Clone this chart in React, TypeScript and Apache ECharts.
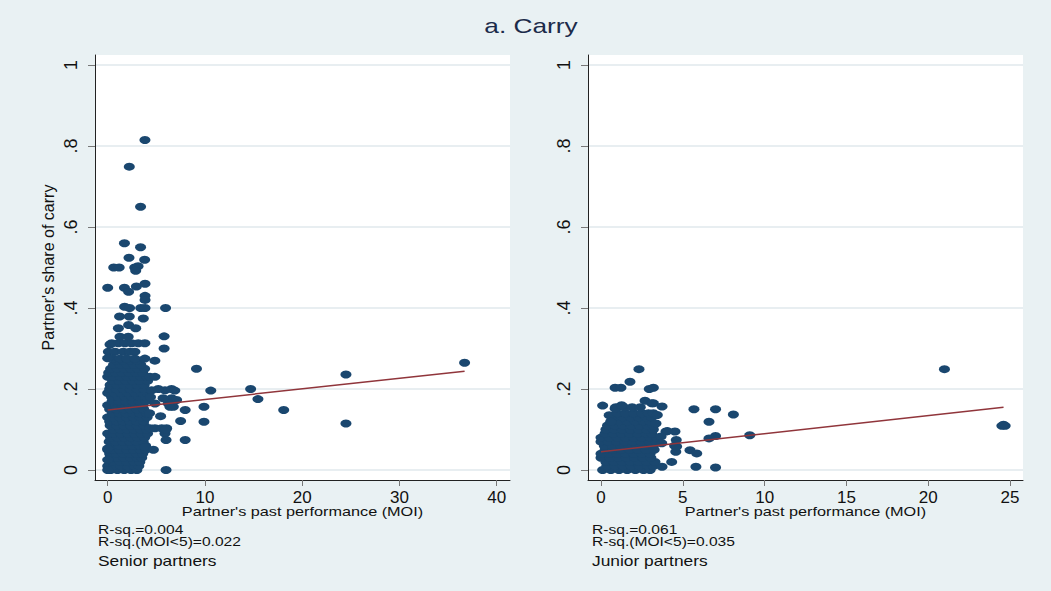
import React, { useEffect, useRef } from "react";
import * as echarts from "echarts";

const TITLE = "a. Carry";
const X_TITLE = "Partner's past performance (MOI)";
const Y_TITLE = "Partner's share of carry";
const yTicks = [0, 0.2, 0.4, 0.6, 0.8, 1];
const yTickLabels = ["0", ".2", ".4", ".6", ".8", "1"];
const seniorXTicks = [0, 10, 20, 30, 40];
const juniorXTicks = [0, 5, 10, 15, 20, 25];
const seniorNotes = ["R-sq.=0.004", "R-sq.(MOI<5)=0.022", "Senior partners"];
const juniorNotes = ["R-sq.=0.061", "R-sq.(MOI<5)=0.035", "Junior partners"];

// fitted lines (start, end)
const seniorFit = [[0, 0.148], [36.7, 0.244]];
const juniorFit = [[0, 0.045], [24.6, 0.155]];

// Senior partners: scattered points
const seniorOutliers = [
  [3.83, 0.815], [2.22, 0.749], [3.38, 0.65], [1.72, 0.56], [3.38, 0.55], [2.19, 0.524], [3.8, 0.519],
  [0.62, 0.5], [1.18, 0.5], [2.78, 0.5], [3.12, 0.503], [2.88, 0.492], [0, 0.45], [1.72, 0.45],
  [2.15, 0.44], [2.95, 0.453], [3.84, 0.46], [3.84, 0.43], [3.84, 0.42], [1.74, 0.403], [2.25, 0.4],
  [3.4, 0.4], [3.84, 0.4], [5.95, 0.4], [1.22, 0.379], [2.22, 0.379], [3.66, 0.374], [1.1, 0.35],
  [2.15, 0.358], [2.88, 0.35], [5.8, 0.33], [5.8, 0.3], [9.13, 0.25], [4.85, 0.27], [36.7, 0.265],
  [24.5, 0.236], [14.7, 0.2], [10.6, 0.196], [15.45, 0.175], [18.1, 0.148], [9.9, 0.156], [9.9, 0.119],
  [24.5, 0.115], [7.97, 0.148], [7.5, 0.121], [7.97, 0.074], [6.56, 0.2], [6.9, 0.196], [5.7, 0.177],
  [6.4, 0.156], [6.0, 0], [6.0, 0.074], [6.0, 0.1], [5.44, 0.133], [4.7, 0.05], [5.2, 0.2], [0, 0.053],
  [0, 0.025], [0, 0], [0, 0.276], [0.24, 0.31],
];
const seniorFringe = [
  [0.41, 0.313], [1.09, 0.313], [1.77, 0.313], [2.46, 0.313], [3.14, 0.313], [3.82, 0.313],
  [0.07, 0.292], [0.75, 0.292], [1.6, 0.292], [2.29, 0.292], [2.8, 0.292], [0.58, 0.275],
  [1.26, 0.275], [1.94, 0.275], [2.8, 0.275], [3.82, 0.275], [1.26, 0.329], [2.11, 0.329],
  [4.35, 0.23], [4.86, 0.23], [4.52, 0.197], [5.89, 0.197], [6.58, 0.177], [7.09, 0.173],
  [4.86, 0.164], [6.23, 0.164], [6.75, 0.156], [4.35, 0.103], [4.86, 0.103], [5.55, 0.103],
  [6.06, 0.103], [5.89, 0.09], [3.84, 0.057], [4.3, 0.14], [4.4, 0.18],
];
const seniorCore = [
  [0.3, 0], [1.0, 0], [1.7, 0], [2.4, 0], [3.0, 0],
  [0.0, 0.01], [0.65, 0.01], [1.35, 0.01], [2.05, 0.01], [2.75, 0.01], [3.2, 0.01],
  [0.6, 0.02], [1.3, 0.02], [2.0, 0.02], [2.7, 0.02], [3.3, 0.02],
  [0.25, 0.03], [0.95, 0.03], [1.65, 0.03], [2.35, 0.03], [3.05, 0.03], [3.5, 0.03],
  [0.2, 0.04], [0.9, 0.04], [1.6, 0.04], [2.3, 0.04], [3.0, 0.04], [3.6, 0.04],
  [0.0, 0.05], [0.55, 0.05], [1.25, 0.05], [1.95, 0.05], [2.65, 0.05], [3.35, 0.05], [3.9, 0.05],
  [0.5, 0.06], [1.2, 0.06], [1.9, 0.06], [2.6, 0.06], [3.3, 0.06], [3.9, 0.06],
  [0.15, 0.07], [0.85, 0.07], [1.55, 0.07], [2.25, 0.07], [2.95, 0.07], [3.65, 0.07],
  [0.3, 0.08], [1.0, 0.08], [1.7, 0.08], [2.4, 0.08], [3.1, 0.08], [3.8, 0.08],
  [0.0, 0.09], [0.65, 0.09], [1.35, 0.09], [2.05, 0.09], [2.75, 0.09], [3.45, 0.09], [4.1, 0.09],
  [0.6, 0.1], [1.3, 0.1], [2.0, 0.1], [2.7, 0.1], [3.4, 0.1], [4.0, 0.1],
  [0.25, 0.11], [0.95, 0.11], [1.65, 0.11], [2.35, 0.11], [3.05, 0.11], [3.75, 0.11],
  [0.2, 0.12], [0.9, 0.12], [1.6, 0.12], [2.3, 0.12], [3.0, 0.12], [3.7, 0.12],
  [0.0, 0.13], [0.55, 0.13], [1.25, 0.13], [1.95, 0.13], [2.65, 0.13], [3.35, 0.13], [4.05, 0.13],
  [0.5, 0.14], [1.2, 0.14], [1.9, 0.14], [2.6, 0.14], [3.3, 0.14], [4.0, 0.14],
  [0.2, 0.15], [0.9, 0.15], [1.6, 0.15], [2.3, 0.15], [3.0, 0.15], [3.7, 0.15],
  [0.0, 0.16], [0.8, 0.16], [1.5, 0.16], [2.2, 0.16], [2.9, 0.16], [3.6, 0.16],
  [0.45, 0.17], [1.15, 0.17], [1.85, 0.17], [2.55, 0.17], [3.25, 0.17], [3.95, 0.17],
  [0.4, 0.18], [1.1, 0.18], [1.8, 0.18], [2.5, 0.18], [3.2, 0.18], [3.9, 0.18],
  [0.0, 0.19], [0.7, 0.19], [1.4, 0.19], [2.1, 0.19], [2.8, 0.19], [3.5, 0.19], [4.1, 0.19],
  [0.2, 0.2], [0.9, 0.2], [1.6, 0.2], [2.3, 0.2], [3.0, 0.2], [3.7, 0.2],
  [0.25, 0.21], [0.95, 0.21], [1.65, 0.21], [2.35, 0.21], [3.05, 0.21], [3.75, 0.21],
  [0.5, 0.22], [1.2, 0.22], [1.9, 0.22], [2.6, 0.22], [3.3, 0.22], [4.1, 0.22],
  [0.0, 0.23], [0.6, 0.23], [1.3, 0.23], [2.0, 0.23], [2.7, 0.23], [3.4, 0.23], [4.0, 0.23],
  [0.1, 0.24], [0.8, 0.24], [1.5, 0.24], [2.2, 0.24], [2.9, 0.24], [3.6, 0.24],
  [0.3, 0.25], [1.0, 0.25], [1.7, 0.25], [2.4, 0.25], [3.1, 0.25], [3.8, 0.25],
  [0.6, 0.26], [1.3, 0.26], [2.0, 0.26], [2.7, 0.26], [3.4, 0.26],
  [0.9, 0.27], [1.6, 0.27], [2.3, 0.27], [3.0, 0.27],
];

// Junior partners
const juniorOutliers = [
  [2.32, 0.249], [20.99, 0.249], [1.77, 0.218], [0.86, 0.203], [1.22, 0.203], [2.95, 0.2], [3.2, 0.203],
  [0.1, 0.159], [2.69, 0.171], [3.2, 0.165], [3.73, 0.157], [5.68, 0.15], [7.0, 0.15], [8.09, 0.137],
  [6.6, 0.119], [9.09, 0.086], [7.0, 0.084], [6.6, 0.078], [24.5, 0.109], [24.7, 0.109], [24.6, 0.112],
  [3.97, 0.095], [4.52, 0.095], [5.44, 0.049], [5.85, 0.041], [5.8, 0.008], [7.0, 0.006], [3.73, 0.008],
  [4.32, 0.02], [4.5, 0.06], [4.6, 0.074], [4.57, 0.045], [0.61, 0.119], [0.86, 0.152], [1.26, 0.16],
  [3.1, 0.165], [4.06, 0.096], [3.67, 0.083], [3.71, 0.066], [4.62, 0.058], [3.44, 0.136], [3.36, 0.115],
];
const juniorCore = [
  [0.1, 0], [0.6, 0], [1.1, 0], [1.6, 0], [2.1, 0], [2.6, 0], [3.0, 0],
  [0.35, 0.01], [0.85, 0.01], [1.35, 0.01], [1.85, 0.01], [2.35, 0.01], [2.85, 0.01], [3.2, 0.01],
  [0.3, 0.02], [0.8, 0.02], [1.3, 0.02], [1.8, 0.02], [2.3, 0.02], [2.8, 0.02], [3.3, 0.02],
  [0.0, 0.03], [0.55, 0.03], [1.05, 0.03], [1.55, 0.03], [2.05, 0.03], [2.55, 0.03], [3.05, 0.03],
  [0.0, 0.04], [0.5, 0.04], [1.0, 0.04], [1.5, 0.04], [2.0, 0.04], [2.5, 0.04], [3.0, 0.04],
  [0.25, 0.05], [0.75, 0.05], [1.25, 0.05], [1.75, 0.05], [2.25, 0.05], [2.75, 0.05], [3.25, 0.05],
  [0.2, 0.06], [0.7, 0.06], [1.2, 0.06], [1.7, 0.06], [2.2, 0.06], [2.7, 0.06], [3.2, 0.06],
  [0.0, 0.07], [0.45, 0.07], [0.95, 0.07], [1.45, 0.07], [1.95, 0.07], [2.45, 0.07], [2.95, 0.07], [3.35, 0.07],
  [0.0, 0.08], [0.5, 0.08], [1.0, 0.08], [1.5, 0.08], [2.0, 0.08], [2.5, 0.08], [3.0, 0.08], [3.4, 0.08],
  [0.25, 0.09], [0.75, 0.09], [1.25, 0.09], [1.75, 0.09], [2.25, 0.09], [2.75, 0.09], [3.1, 0.09],
  [0.3, 0.1], [0.8, 0.1], [1.3, 0.1], [1.8, 0.1], [2.3, 0.1], [2.8, 0.1], [3.2, 0.1],
  [0.4, 0.11], [0.85, 0.11], [1.35, 0.11], [1.85, 0.11], [2.35, 0.11], [2.85, 0.11], [3.2, 0.11],
  [0.6, 0.12], [1.1, 0.12], [1.6, 0.12], [2.1, 0.12], [2.6, 0.12], [3.0, 0.12],
  [0.8, 0.13], [1.3, 0.13], [1.8, 0.13], [2.3, 0.13], [2.75, 0.13], [3.1, 0.13],
  [0.5, 0.135], [1.0, 0.14], [1.5, 0.14], [2.0, 0.14], [2.5, 0.14], [2.9, 0.14], [3.2, 0.14],
  [0.9, 0.155], [1.4, 0.155], [1.9, 0.155], [2.4, 0.155],
];

const BG = "#e9f1f3";
const NAVY = "#1a476f";
const MAROON = "#90353b";
const FONT = "'Liberation Sans', Arial, Helvetica, sans-serif";

const yFmt = (v: number) => {
  const i = yTicks.findIndex((t) => Math.abs(t - v) < 1e-9);
  return i >= 0 ? yTickLabels[i] : String(v);
};

function makeYAxis(gridIndex: number) {
  return {
    type: "value",
    gridIndex,
    min: -0.0247,
    max: 1.0247,
    axisLine: { show: true, onZero: false, lineStyle: { color: "#222", width: 1 } },
    axisTick: { show: true, length: 7, customValues: yTicks, lineStyle: { color: "#777", width: 1 } },
    axisLabel: {
      customValues: yTicks,
      rotate: 90,
      margin: 15,
      fontSize: 18,
      color: "#111",
      fontFamily: FONT,
      formatter: yFmt,
    },
    splitLine: { show: true, lineStyle: { color: "#e1e9ec", width: 1.5 } },
  };
}

function makeXAxis(gridIndex: number, min: number, max: number, ticks: number[]) {
  return {
    type: "value",
    gridIndex,
    min,
    max,
    axisLine: { show: true, onZero: false, lineStyle: { color: "#222", width: 1 } },
    axisTick: { show: true, length: 6, customValues: ticks, lineStyle: { color: "#777", width: 1 } },
    axisLabel: {
      customValues: ticks,
      margin: 9,
      fontSize: 17,
      color: "#111",
      fontFamily: FONT,
      showMinLabel: true,
      showMaxLabel: true,
    },
    splitLine: { show: false },
  };
}

function noteTexts(x: number, notes: string[]) {
  const ys = [530, 541.5, 561];
  return notes.map((t, i) => ({
    type: "text",
    x,
    y: ys[i],
    scaleX: i === 2 ? 1.24 : 1.3,
    style: {
      text: t,
      x: 0,
      y: 0,
      fontSize: i === 2 ? 14 : 12,
      fontFamily: FONT,
      fill: "#111",
      textAlign: "left",
      textVerticalAlign: "middle",
    },
  }));
}

export default function App() {
  const ref = useRef<HTMLDivElement>(null);

  useEffect(() => {
    document.body.style.margin = "0";
    const chart = echarts.init(ref.current!, undefined, { renderer: "svg" });
    const scatterStyle = {
      type: "scatter",
      symbol: "circle",
      symbolSize: [11, 8],
      itemStyle: { color: NAVY, opacity: 1 },
      z: 2,
      silent: true,
    };
    const option = {
      animation: false,
      backgroundColor: BG,
      grid: [
        { left: 95, top: 55, width: 415, height: 425, show: true, backgroundColor: "#ffffff", borderWidth: 0 },
        { left: 588, top: 55, width: 435, height: 425, show: true, backgroundColor: "#ffffff", borderWidth: 0 },
      ],
      xAxis: [
        makeXAxis(0, -1.306, 41.37, seniorXTicks),
        makeXAxis(1, -0.795, 25.79, juniorXTicks),
      ],
      yAxis: [makeYAxis(0), makeYAxis(1)],
      series: [
        { ...scatterStyle, xAxisIndex: 0, yAxisIndex: 0, data: [...seniorCore, ...seniorFringe, ...seniorOutliers] },
        { ...scatterStyle, xAxisIndex: 1, yAxisIndex: 1, data: [...juniorCore, ...juniorOutliers] },
        {
          type: "line", xAxisIndex: 0, yAxisIndex: 0, data: seniorFit, showSymbol: false, z: 3, silent: true,
          lineStyle: { color: MAROON, width: 1.5 },
        },
        {
          type: "line", xAxisIndex: 1, yAxisIndex: 1, data: juniorFit, showSymbol: false, z: 3, silent: true,
          lineStyle: { color: MAROON, width: 1.5 },
        },
      ],
      graphic: [
        {
          type: "text", x: 531, y: 25, scaleX: 1.25,
          style: { text: TITLE, x: 0, y: 0, fontSize: 21, fontFamily: FONT, fill: "#1c2b4a", textAlign: "center", textVerticalAlign: "middle" },
        },
        {
          type: "text", x: 48, y: 267.5, rotation: Math.PI / 2,
          style: { text: Y_TITLE, x: 0, y: 0, fontSize: 16, fontFamily: FONT, fill: "#111", textAlign: "center", textVerticalAlign: "middle" },
        },
        {
          type: "text", x: 302.5, y: 512, scaleX: 1.25,
          style: { text: X_TITLE, x: 0, y: 0, fontSize: 13, fontFamily: FONT, fill: "#111", textAlign: "center", textVerticalAlign: "middle" },
        },
        {
          type: "text", x: 805.5, y: 512, scaleX: 1.25,
          style: { text: X_TITLE, x: 0, y: 0, fontSize: 13, fontFamily: FONT, fill: "#111", textAlign: "center", textVerticalAlign: "middle" },
        },
        ...noteTexts(98, seniorNotes),
        ...noteTexts(592, juniorNotes),
      ],
    };
    chart.setOption(option as any);
    return () => chart.dispose();
  }, []);

  return (
    <div
      ref={ref}
      style={{ position: "fixed", left: 0, top: 0, width: 1051, height: 591 }}
    />
  );
}
